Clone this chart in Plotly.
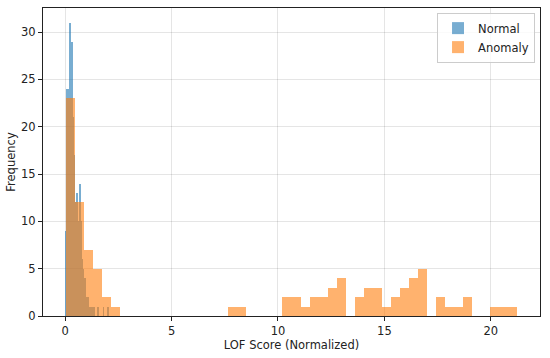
import plotly.graph_objects as go

# ---- data ----
anomaly_bin_start = 0.02
anomaly_bin_width = 0.4246
anomaly_counts = [23, 12, 7, 5, 2, 1, 0, 0, 0, 0,
                  0, 0, 0, 0, 0, 0, 0, 0, 1, 1,
                  0, 0, 0, 0, 2, 2, 1, 2, 2, 3,
                  4, 0, 2, 3, 3, 1, 2, 3, 4, 5,
                  0, 2, 1, 1, 2, 0, 0, 1, 1, 1]

normal_bin_start = 0.02
normal_bin_width = 0.04
normal_counts = [9, 24, 24, 22, 25, 31, 19, 29, 21, 17,
                 15, 12, 11, 13, 9, 10, 14, 8, 10, 6,
                 5, 3, 4, 2, 2, 1, 2, 0, 1, 1,
                 0, 1, 0, 1, 0, 0, 0, 0, 1, 0,
                 0, 0, 0, 0, 1, 0, 0, 0, 0, 1]

x_ticks = [0, 5, 10, 15, 20]
y_ticks = [0, 5, 10, 15, 20, 25, 30]


def centers(start, width, n):
    return [start + width * (i + 0.5) for i in range(n)]


fig = go.Figure()
fig.add_trace(go.Bar(
    x=centers(normal_bin_start, normal_bin_width, len(normal_counts)),
    y=normal_counts, width=normal_bin_width, name="Normal",
    marker=dict(color="#1f77b4", line=dict(width=0)), opacity=0.6))
fig.add_trace(go.Bar(
    x=centers(anomaly_bin_start, anomaly_bin_width, len(anomaly_counts)),
    y=anomaly_counts, width=anomaly_bin_width, name="Anomaly",
    marker=dict(color="#ff7f0e", line=dict(width=0)), opacity=0.6))

all_max = max(max(anomaly_counts), max(normal_counts))
x_lo = min(anomaly_bin_start, normal_bin_start)
x_hi = anomaly_bin_start + anomaly_bin_width * len(anomaly_counts)
pad = (x_hi - x_lo) * 0.05

axis_common = dict(showline=True, linecolor="#222", linewidth=1, mirror=True,
                   ticks="outside", ticklen=4, tickcolor="#222",
                   showgrid=True, gridcolor="rgba(0,0,0,0.1)", gridwidth=1,
                   zeroline=False, automargin=False,
                   tickfont=dict(family="DejaVu Sans", size=11.5, color="#222"))

fig.update_layout(
    width=550, height=358,
    barmode="overlay", bargap=0,
    plot_bgcolor="white", paper_bgcolor="white",
    margin=dict(l=43, r=10, t=8, b=42),
    font=dict(family="DejaVu Sans", color="#222"),
    xaxis=dict(range=[x_lo - pad, x_hi + pad], tickvals=x_ticks,
               title=dict(text="LOF Score (Normalized)", font=dict(size=11.5), standoff=3),
               **axis_common),
    yaxis=dict(range=[0, all_max * 1.05], tickvals=y_ticks,
               title=dict(text="Frequency", font=dict(size=11.5), standoff=3),
               **axis_common),
    legend=dict(x=0.99, y=0.985, xanchor="right", yanchor="top",
                bgcolor="rgba(255,255,255,0.8)", bordercolor="#ccc", borderwidth=1,
                font=dict(size=11.5), tracegroupgap=0),
)

fig.write_html("out.html", config={"displayModeBar": False},
               post_script="document.body.style.margin='0';document.body.style.overflow='hidden';")
